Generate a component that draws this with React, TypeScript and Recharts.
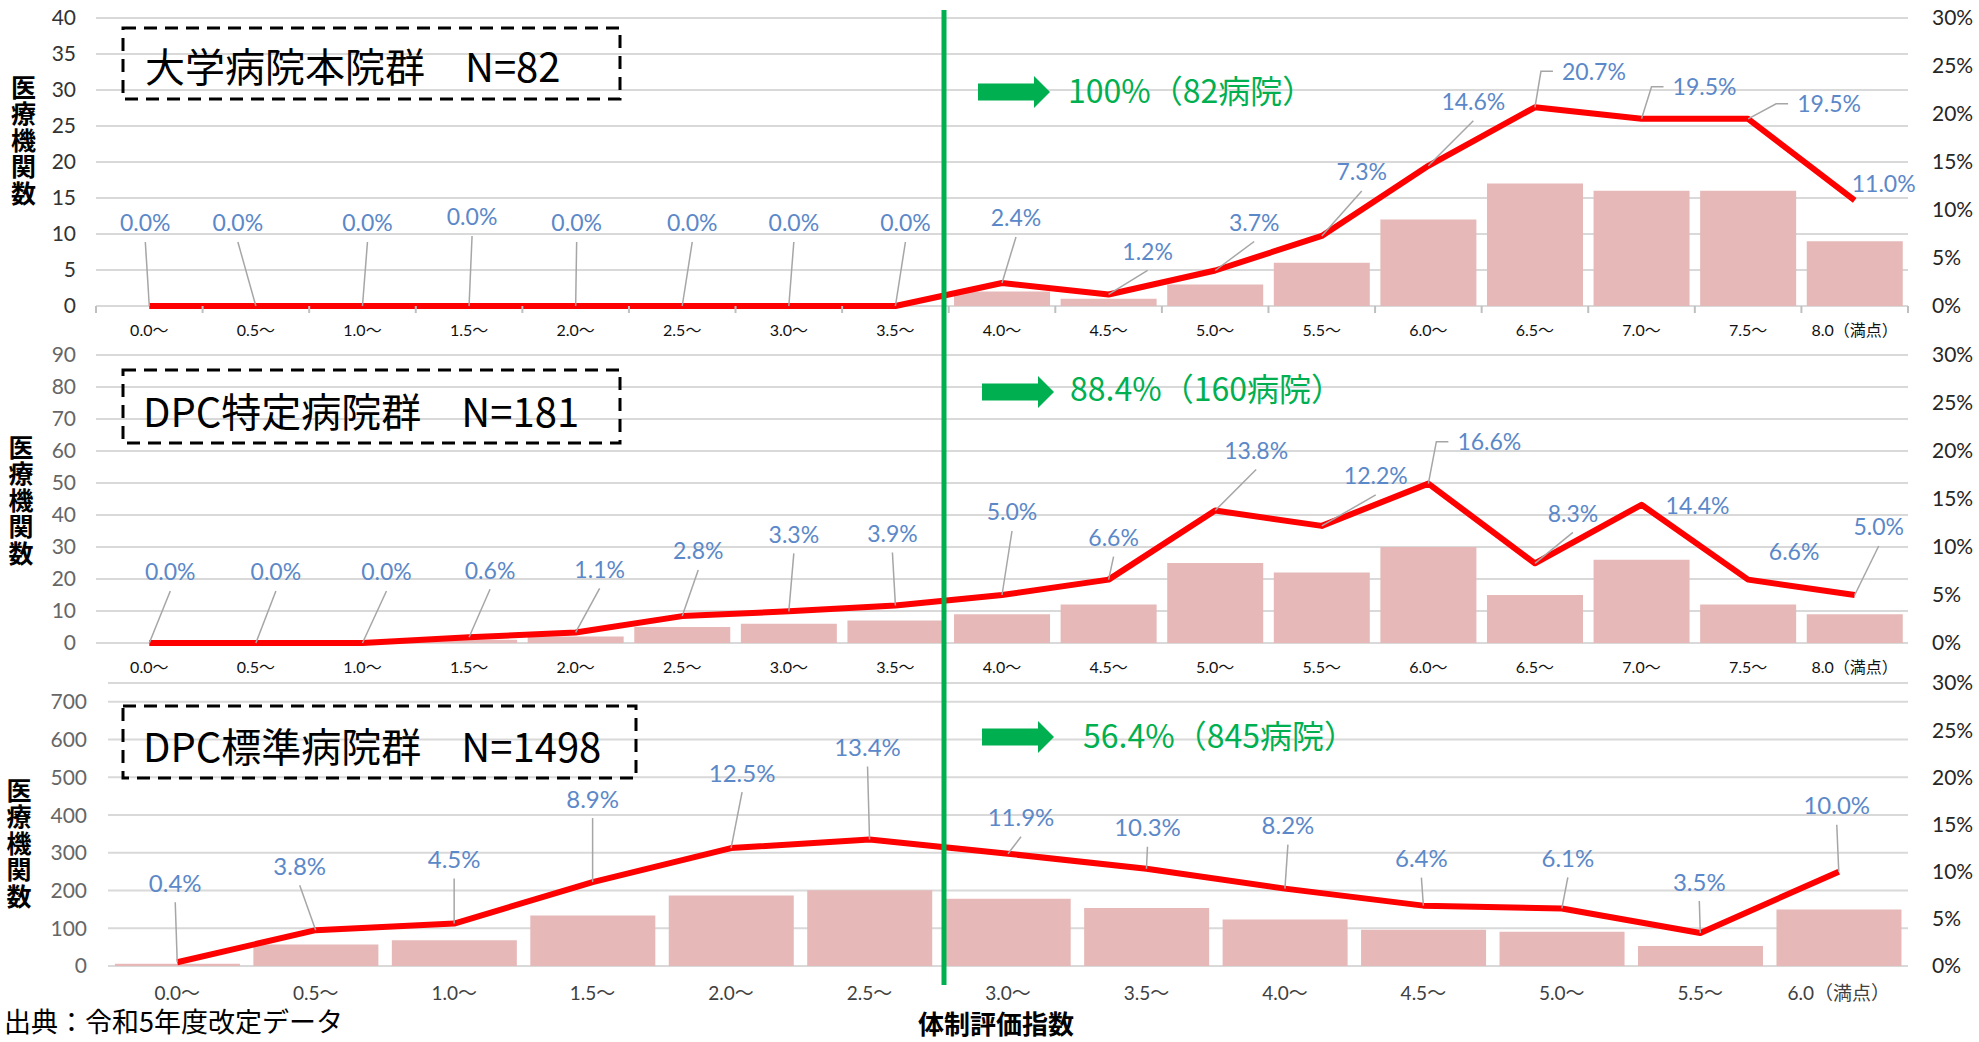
import React from "react";
import { Bar, CartesianGrid, ComposedChart, Line, XAxis, YAxis } from "recharts";

// カテゴリ(体制評価指数)
const cats1 = ["0.0～", "0.5～", "1.0～", "1.5～", "2.0～", "2.5～", "3.0～", "3.5～", "4.0～", "4.5～", "5.0～", "5.5～", "6.0～", "6.5～", "7.0～", "7.5～", "8.0（満点）"];
const cats2 = cats1;
const cats3 = ["0.0～", "0.5～", "1.0～", "1.5～", "2.0～", "2.5～", "3.0～", "3.5～", "4.0～", "4.5～", "5.0～", "5.5～", "6.0（満点）"];

// 医療機関数
const count1 = [0, 0, 0, 0, 0, 0, 0, 0, 2, 1, 3, 6, 12, 17, 16, 16, 9];
const count2 = [0, 0, 0, 1, 2, 5, 6, 7, 9, 12, 25, 22, 30, 15, 26, 12, 9];
const count3 = [6, 57, 68, 134, 187, 201, 178, 154, 123, 96, 91, 53, 150];

// 割合(%)
const pct1 = [0, 0, 0, 0, 0, 0, 0, 0, 2.4, 1.2, 3.7, 7.3, 14.6, 20.7, 19.5, 19.5, 11.0];
const pct2 = [0, 0, 0, 0.6, 1.1, 2.8, 3.3, 3.9, 5.0, 6.6, 13.8, 12.2, 16.6, 8.3, 14.4, 6.6, 5.0];
const pct3 = [0.4, 3.8, 4.5, 8.9, 12.5, 13.4, 11.9, 10.3, 8.2, 6.4, 6.1, 3.5, 10.0];

const leftTicks1 = [0, 5, 10, 15, 20, 25, 30, 35, 40];
const leftTicks2 = [0, 10, 20, 30, 40, 50, 60, 70, 80, 90];
const leftTicks3 = [0, 100, 200, 300, 400, 500, 600, 700];
const pctTicks = [0, 5, 10, 15, 20, 25, 30];

const titles = ["大学病院本院群　N=82", "DPC特定病院群　N=181", "DPC標準病院群　N=1498"];
const shares = ["100%（82病院）", "88.4%（160病院）", "56.4%（845病院）"];
const yTitle = "医療機関数";
const xTitle = "体制評価指数";
const source = "出典：令和5年度改定データ";

// ラベル配置 [dx, dy, 引出線] v=直線 e=折れ線 n=なし
const lab1 = [[-4, -83, "v"], [-18, -83, "v"], [5, -83, "v"], [3, -89, "v"], [1, -83, "v"], [10, -83, "v"], [5, -83, "v"], [10, -83, "v"], [14, -65, "v"], [39, -43, "v"], [39, -48, "v"], [40, -64, "v"], [45, -64, "v"], [59, -36, "e"], [63, -32, "e"], [81, -15, "e"], [29, -17, "n"]];
const lab2 = [[21, -71, "v"], [20, -71, "v"], [24, -71, "v"], [21, -67, "v"], [24, -63, "v"], [16, -65, "v"], [5, -77, "v"], [-3, -72, "v"], [10, -83, "v"], [5, -42, "v"], [41, -60, "v"], [54, -50, "v"], [61, -42, "e"], [38, -50, "v"], [56, 1, "n"], [46, -28, "n"], [24, -68, "v"]];
const lab3 = [[-2, -79, "v"], [-16, -64, "v"], [0, -64, "v"], [0, -83, "v"], [11, -75, "v"], [-2, -92, "v"], [13, -36, "v"], [1, -41, "v"], [3, -63, "v"], [-2, -47, "v"], [6, -50, "v"], [-1, -51, "v"], [-2, -66, "v"]];

const W = 1979;
const H = 1042;
const PLOT_RIGHT = 1908;
const NUM_FONT = "Lato, 'Noto Sans CJK JP', sans-serif";
const JP_FONT = "'Noto Sans CJK JP', sans-serif";
const GREEN = "#00b050";

const panels = [
  { top: 0, plotTop: 18, plotBottom: 306, axisH: 40, left: 96, labelRight: 76, cats: cats1, counts: count1, pct: pct1, leftDomain: [0, 40], leftTicks: leftTicks1, leftColor: "#333333", labels: lab1, labelSize: 23, xFont: 16, xColor: "#111111", xDy: 30, bTicks: true },
  { top: 340, plotTop: 355, plotBottom: 643, axisH: 40, left: 96, labelRight: 76, cats: cats2, counts: count2, pct: pct2, leftDomain: [0, 90], leftTicks: leftTicks2, leftColor: "#666666", labels: lab2, labelSize: 23, xFont: 16, xColor: "#111111", xDy: 30, bTicks: false },
  { top: 670, plotTop: 683, plotBottom: 966, axisH: 45, left: 108, labelRight: 87, cats: cats3, counts: count3, pct: pct3, leftDomain: [0, 750], leftTicks: leftTicks3, leftColor: "#666666", labels: lab3, labelSize: 24, xFont: 19, xColor: "#404040", xDy: 34, bTicks: false },
];

function XTick(props: any) {
  const { x, y, payload, index, c, band } = props;
  return (
    <g>
      {c.bTicks && <line x1={x - band / 2} x2={x - band / 2} y1={y} y2={y + 7} stroke="#bfbfbf" strokeWidth={2} />}
      {c.bTicks && index === c.cats.length - 1 && <line x1={x + band / 2} x2={x + band / 2} y1={y} y2={y + 7} stroke="#bfbfbf" strokeWidth={2} />}
      <text x={x} y={y + c.xDy} textAnchor="middle" fontSize={c.xFont} fill={c.xColor} fontFamily={NUM_FONT}>
        {payload.value}
      </text>
    </g>
  );
}

function PctLabel(props: any) {
  const { cx, cy, index, c } = props;
  if (cx == null || cy == null) return <g />;
  const [dx, dy, mode] = c.labels[index];
  const lx = cx + dx;
  const ly = cy + dy;
  const stroke = "#a6a6a6";
  return (
    <g>
      {mode === "v" && <line x1={lx} y1={ly + 19} x2={cx} y2={cy} stroke={stroke} strokeWidth={1.5} />}
      {mode === "e" && <polyline points={`${lx - 41},${ly} ${lx - 53},${ly} ${cx},${cy}`} fill="none" stroke={stroke} strokeWidth={1.5} />}
      <text x={lx} y={ly + c.labelSize * 0.36} textAnchor="middle" fontSize={c.labelSize} fill="#5b88c8" fontFamily={NUM_FONT}>
        {`${c.pct[index].toFixed(1)}%`}
      </text>
    </g>
  );
}

function Panel({ c }: { c: any }) {
  const data = c.cats.map((cat: string, i: number) => ({ cat, count: c.counts[i], pct: c.pct[i] }));
  const band = (PLOT_RIGHT - c.left) / c.cats.length;
  return (
    <div style={{ position: "absolute", left: 0, top: c.top }}>
      <ComposedChart
        width={W}
        height={c.plotBottom - c.top + c.axisH}
        data={data}
        margin={{ top: c.plotTop - c.top, right: 0, bottom: 0, left: 0 }}
        barCategoryGap="5%"
      >
        <CartesianGrid vertical={false} stroke="#d9d9d9" strokeWidth={2} />
        <XAxis
          dataKey="cat"
          height={c.axisH}
          interval={0}
          tickLine={false}
          tickSize={0}
          tickMargin={0}
          axisLine={false}
          tick={(p: any) => <XTick {...p} c={c} band={band} />}
        />
        <YAxis
          width={c.left}
          domain={c.leftDomain}
          ticks={c.leftTicks}
          axisLine={false}
          tickLine={false}
          tickSize={0}
          tickMargin={c.left - c.labelRight}
          tick={{ fontSize: 21, fill: c.leftColor, fontFamily: NUM_FONT }}
        />
        <YAxis
          yAxisId="pct"
          orientation="right"
          width={W - PLOT_RIGHT}
          domain={[0, 30]}
          ticks={pctTicks}
          tickFormatter={(v: number) => `${v}%`}
          axisLine={false}
          tickLine={false}
          tickSize={0}
          tickMargin={24}
          tick={{ fontSize: 21, fill: "#262626", fontFamily: NUM_FONT }}
        />
        <Bar dataKey="count" fill="#e6b8b7" isAnimationActive={false} />
        <Line
          yAxisId="pct"
          dataKey="pct"
          type="linear"
          stroke="#ff0000"
          strokeWidth={6}
          strokeLinejoin="round"
          isAnimationActive={false}
          activeDot={false}
          dot={(p: any) => <PctLabel key={`l${p.index}`} {...p} c={c} />}
        />
      </ComposedChart>
    </div>
  );
}

function arrow(x0: number, yc: number) {
  const pts = [
    [x0, yc - 8.5], [x0 + 56, yc - 8.5], [x0 + 56, yc - 16], [x0 + 72, yc],
    [x0 + 56, yc + 16], [x0 + 56, yc + 8.5], [x0, yc + 8.5],
  ];
  return <polygon points={pts.map((p) => p.join(",")).join(" ")} fill={GREEN} />;
}

function VerticalTitle({ x, top }: { x: number; top: number }) {
  return (
    <text
      x={x}
      y={top}
      fontSize={25}
      fontWeight="bold"
      fontFamily={JP_FONT}
      fill="#000"
      letterSpacing={1.4}
      style={{ writingMode: "vertical-rl" }}
    >
      {yTitle}
    </text>
  );
}

export default function App() {
  const boxes = [
    { x: 123, y: 28, w: 497, h: 71, tx: 145, ty: 82 },
    { x: 123, y: 370, w: 497, h: 73, tx: 143, ty: 427 },
    { x: 123, y: 706, w: 513, h: 72, tx: 143, ty: 762 },
  ];
  const arrows = [
    { x: 978, y: 92, tx: 1068, ty: 103 },
    { x: 982, y: 392, tx: 1070, ty: 401 },
    { x: 982, y: 737, tx: 1083, ty: 748 },
  ];
  return (
    <div style={{ position: "absolute", left: 0, top: 0, width: W, height: H, overflow: "hidden", background: "#fff" }}>
      {panels.map((c, i) => (
        <Panel key={i} c={c} />
      ))}
      <svg width={W} height={H} style={{ position: "absolute", left: 0, top: 0, pointerEvents: "none" }}>
        <rect x={941.5} y={10} width={5} height={975} fill={GREEN} />
        {boxes.map((b, i) => (
          <g key={i}>
            <rect x={b.x} y={b.y} width={b.w} height={b.h} fill="none" stroke="#000" strokeWidth={3} strokeDasharray="13 8" />
            <text x={b.tx} y={b.ty} fontSize={40} fontFamily={JP_FONT} fill="#000">
              {titles[i]}
            </text>
          </g>
        ))}
        {arrows.map((a, i) => (
          <g key={i}>
            {arrow(a.x, a.y)}
            <text x={a.tx} y={a.ty} fontSize={32} fontFamily={JP_FONT} fill={GREEN}>
              {shares[i]}
            </text>
          </g>
        ))}
        <VerticalTitle x={23.5} top={75} />
        <VerticalTitle x={21} top={435} />
        <VerticalTitle x={19} top={778} />
        <text x={4} y={1032} fontSize={27} fontFamily={JP_FONT} fill="#000">
          {source}
        </text>
        <text x={996} y={1034} fontSize={26} fontWeight="bold" fontFamily={JP_FONT} fill="#000" textAnchor="middle">
          {xTitle}
        </text>
      </svg>
    </div>
  );
}
